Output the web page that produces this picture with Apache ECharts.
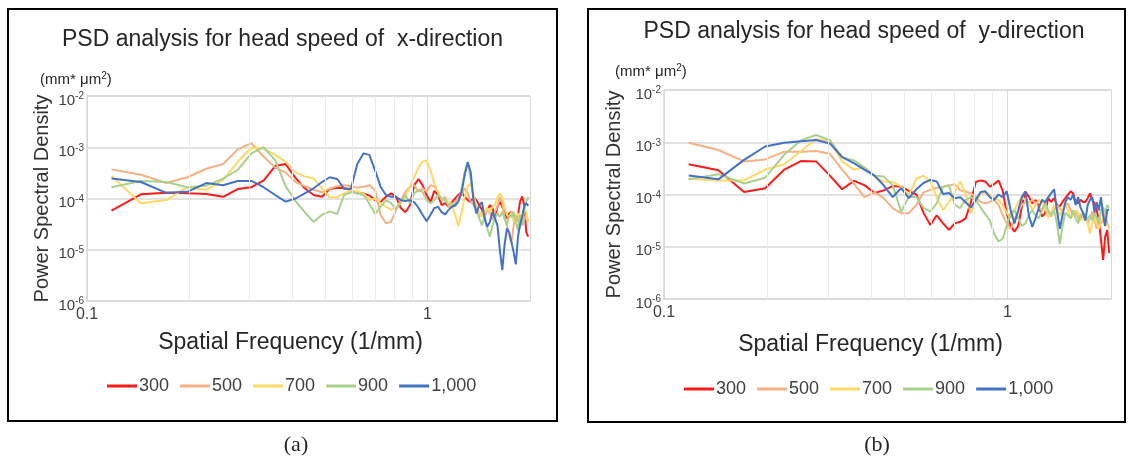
<!DOCTYPE html>
<html><head><meta charset="utf-8">
<script src="https://cdn.jsdelivr.net/npm/echarts@6/dist/echarts.min.js"></script>
<style>html,body{margin:0;padding:0;background:#fff;}#c{width:1133px;height:461px;}</style>
</head><body><div id="c"></div>
<script>
// ---- data ----
const freq = [0.118,0.144,0.171,0.197,0.224,0.251,0.277,0.304,0.330,0.357,0.383,0.410,0.436,0.463,0.490,0.516,0.543,0.569,0.596,0.622,0.649,0.675,0.702,0.728,0.755,0.782,0.808,0.835,0.861,0.888,0.914,0.941,0.967,0.994,1.021,1.047,1.074,1.100,1.127,1.153,1.180,1.206,1.233,1.260,1.286,1.313,1.339,1.366,1.392,1.419,1.445,1.472,1.498,1.525,1.552,1.578,1.605,1.631,1.658,1.684,1.711,1.737,1.764,1.791,1.817,1.844,1.870,1.897,1.923,1.950,1.976];
const seriesNames = ['300','500','700','900','1,000'];
const titleA = 'PSD analysis for head speed of  x-direction';
const titleB = 'PSD analysis for head speed of  y-direction';
const xAxisName = 'Spatial Frequency (1/mm)';
const yAxisName = 'Power Spectral Density';
const unitText = '(mm* \u03bcm{s|2})';
const xTickValues = [0.1, 1];
const xTickLabels = ['0.1', '1'];
const minorGrid = [0.2,0.3,0.4,0.5,0.6,0.7,0.8,0.9];

// panel (a): x-direction
const a300 = [5.8e-5,1.21e-4,1.30e-4,1.26e-4,1.23e-4,1.08e-4,1.53e-4,1.66e-4,2.23e-4,4.3e-4,
  4.7e-4,2.5e-4,1.58e-4,1.17e-4,1.08e-4,1.53e-4,1.62e-4,1.58e-4,1.48e-4,1.26e-4,
  1.26e-4,1.14e-4,9.3e-5,8.5e-5,1.08e-4,1.26e-4,1.08e-4,6.5e-5,5.4e-5,7.4e-5,
  1.82e-4,2.4e-4,1.82e-4,1.17e-4,8.5e-5,1.41e-4,1.17e-4,7.4e-5,8.1e-5,6.9e-5,
  8.5e-5,1.0e-4,1.17e-4,1.35e-4,1.08e-4,9.3e-5,8.5e-5,1.08e-4,9.3e-5,7.4e-5,
  6.0e-5,4.8e-5,6.0e-5,7.4e-5,6.5e-5,4.4e-5,6.9e-5,8.7e-5,6.9e-5,5.5e-5,
  4.1e-5,5.1e-5,5.5e-5,4.8e-5,3.8e-5,4.8e-5,8.7e-5,1.1e-4,7.4e-5,2.2e-5,1.8e-5];
const a500 = [3.7e-4,2.9e-4,2.0e-4,2.6e-4,3.8e-4,4.7e-4,9.1e-4,1.2e-3,6.6e-4,4.0e-4,
  3.2e-4,2.1e-4,1.74e-4,1.48e-4,1.32e-4,1.55e-4,1.74e-4,1.82e-4,1.74e-4,1.62e-4,
  1.70e-4,1.82e-4,1.45e-4,4.8e-5,3.3e-5,3.5e-5,6.0e-5,9.3e-5,1.35e-4,1.70e-4,
  1.82e-4,1.35e-4,1.58e-4,1.35e-4,1.82e-4,1.70e-4,1.35e-4,9.3e-5,1.08e-4,6.9e-5,
  7.4e-5,8.7e-5,1.08e-4,1.17e-4,1.58e-4,1.26e-4,8.7e-5,7.4e-5,6.0e-5,4.4e-5,
  5.5e-5,4.1e-5,6.5e-5,5.1e-5,3.8e-5,5.5e-5,6.9e-5,1.08e-4,8.1e-5,4.1e-5,
  3.0e-5,1.95e-5,1.35e-5,3.0e-5,4.8e-5,3.5e-5,4.8e-5,3.0e-5,3.8e-5,4.8e-5,3.5e-5];
const a700 = [2.75e-4,8.1e-5,9.3e-5,1.66e-4,1.48e-4,2.3e-4,5.2e-4,9.8e-4,9.5e-4,7.1e-4,
  5.2e-4,3.2e-4,2.7e-4,2.45e-4,1.58e-4,1.05e-4,1.07e-4,1.26e-4,1.45e-4,1.38e-4,
  1.26e-4,9.3e-5,1.0e-4,8.1e-5,6.9e-5,6.0e-5,6.9e-5,8.1e-5,1.08e-4,1.70e-4,
  2.6e-4,4.0e-4,5.3e-4,5.5e-4,3.5e-4,2.0e-4,1.3e-4,1.0e-4,9.3e-5,8.7e-5,
  7.4e-5,4.8e-5,2.9e-5,5.5e-5,1.08e-4,1.70e-4,2.0e-4,1.17e-4,6.9e-5,5.5e-5,
  4.4e-5,5.5e-5,6.5e-5,5.5e-5,6.9e-5,7.4e-5,1.08e-4,1.26e-4,1.08e-4,6.5e-5,
  4.8e-5,4.1e-5,5.5e-5,3.5e-5,4.8e-5,5.1e-5,3.0e-5,4.1e-5,6.5e-5,5.5e-5,3.5e-5];
const a900 = [1.66e-4,2.2e-4,2.1e-4,1.66e-4,1.78e-4,2.45e-4,3.6e-4,7.6e-4,1.0e-3,5.6e-4,
  1.74e-4,8.9e-5,5.4e-5,3.5e-5,4.8e-5,5.6e-5,5.0e-5,1.17e-4,1.32e-4,1.26e-4,
  1.17e-4,7.9e-5,5.0e-5,6.9e-5,9.3e-5,8.1e-5,6.0e-5,8.7e-5,1.17e-4,8.1e-5,
  1.26e-4,1.48e-4,1.35e-4,9.3e-5,8.1e-5,9.3e-5,1.17e-4,1.0e-4,9.3e-5,7.4e-5,
  8.1e-5,6.9e-5,8.7e-5,1.58e-4,3.3e-4,5.2e-4,2.45e-4,9.3e-5,6.0e-5,4.1e-5,
  3.0e-5,4.4e-5,2.6e-5,1.8e-5,3.0e-5,4.1e-5,5.1e-5,4.4e-5,5.5e-5,4.1e-5,
  3.0e-5,4.8e-5,4.4e-5,5.5e-5,3.5e-5,2.4e-5,4.8e-5,3.0e-5,6.0e-5,8.7e-5,1.08e-4];
const a1000 = [2.45e-4,2.1e-4,1.29e-4,1.35e-4,2.0e-4,1.82e-4,2.2e-4,2.2e-4,1.66e-4,1.17e-4,
  8.7e-5,1.0e-4,1.26e-4,1.58e-4,2.1e-4,2.6e-4,2.4e-4,1.55e-4,1.55e-4,4.7e-4,
  7.6e-4,7.1e-4,3.5e-4,1.70e-4,1.17e-4,1.08e-4,1.08e-4,9.3e-5,8.9e-5,9.3e-5,
  8.5e-5,6.6e-5,4.8e-5,3.6e-5,4.8e-5,6.5e-5,6.9e-5,5.4e-5,4.9e-5,6.0e-5,
  6.9e-5,7.4e-5,8.9e-5,1.35e-4,2.9e-4,5.1e-4,3.3e-4,8.7e-5,5.1e-5,7.4e-5,
  8.5e-5,4.1e-5,2.8e-5,3.5e-5,5.5e-5,4.1e-5,3.0e-5,1.0e-5,4.0e-6,1.26e-5,
  2.6e-5,2.2e-5,1.41e-5,8.9e-6,5.2e-6,1.8e-5,3.0e-5,4.5e-5,7.1e-5,8.1e-5,7.2e-5];

// panel (b): y-direction
const b300 = [3.8e-4,2.9e-4,1.12e-4,1.32e-4,3.0e-4,4.4e-4,4.3e-4,2.3e-4,1.26e-4,1.82e-4,
  1.51e-4,1.07e-4,1.20e-4,1.45e-4,1.41e-4,1.17e-4,1.0e-4,4.5e-5,2.6e-5,4.0e-5,
  2.8e-5,2.1e-5,2.8e-5,3.0e-5,3.5e-5,7.1e-5,1.74e-4,1.86e-4,1.78e-4,1.41e-4,
  1.58e-4,1.86e-4,1.20e-4,4.4e-5,2.5e-5,1.95e-5,2.5e-5,5.9e-5,1.12e-4,9.1e-5,
  6.8e-5,7.9e-5,5.9e-5,3.8e-5,4.4e-5,8.5e-5,7.2e-5,8.5e-5,6.3e-5,5.9e-5,
  7.2e-5,8.5e-5,9.8e-5,1.15e-4,1.05e-4,7.2e-5,6.8e-5,7.9e-5,7.2e-5,7.2e-5,
  8.5e-5,1.05e-4,7.9e-5,6.8e-5,5.0e-5,3.2e-5,1.35e-5,5.6e-6,1.55e-5,2.1e-5,7.6e-6];
const b500 = [9.8e-4,7.1e-4,4.3e-4,4.7e-4,6.6e-4,6.6e-4,6.8e-4,6.0e-4,3.0e-4,1.62e-4,
  8.9e-5,1.10e-4,8.5e-5,5.5e-5,4.4e-5,4.4e-5,6.3e-5,1.10e-4,1.23e-4,1.35e-4,
  1.41e-4,1.48e-4,1.58e-4,1.20e-4,1.15e-4,1.05e-4,8.9e-5,7.2e-5,6.8e-5,7.2e-5,
  7.9e-5,6.3e-5,4.1e-5,2.8e-5,2.2e-5,3.2e-5,4.7e-5,6.3e-5,7.2e-5,6.8e-5,
  7.9e-5,6.8e-5,5.6e-5,5.0e-5,6.3e-5,4.7e-5,3.8e-5,5.0e-5,6.3e-5,5.5e-5,
  4.7e-5,6.3e-5,6.8e-5,5.0e-5,4.1e-5,4.7e-5,3.5e-5,3.2e-5,4.4e-5,3.8e-5,
  2.8e-5,3.5e-5,4.7e-5,3.2e-5,2.2e-5,3.8e-5,2.8e-5,3.2e-5,4.4e-5,2.8e-5,2.2e-5];
const b700 = [2.0e-4,1.86e-4,1.86e-4,3.0e-4,3.8e-4,6.9e-4,1.15e-3,1.07e-3,4.3e-4,3.0e-4,
  3.3e-4,2.2e-4,1.78e-4,1.74e-4,1.41e-4,9.8e-5,2.0e-4,2.3e-4,1.78e-4,8.9e-5,
  5.0e-5,7.1e-5,1.1e-4,1.78e-4,1.0e-4,4.4e-5,7.9e-5,1.0e-4,1.12e-4,1.0e-4,
  8.9e-5,7.9e-5,6.3e-5,4.5e-5,3.5e-5,5.0e-5,7.1e-5,8.9e-5,7.9e-5,7.1e-5,
  5.0e-5,6.3e-5,7.9e-5,7.1e-5,5.6e-5,3.5e-5,4.5e-5,6.3e-5,5.6e-5,4.0e-5,
  5.0e-5,6.3e-5,5.0e-5,3.5e-5,4.0e-5,5.0e-5,4.5e-5,3.2e-5,3.5e-5,4.0e-5,
  2.8e-5,1.8e-5,2.8e-5,3.5e-5,2.8e-5,2.2e-5,3.2e-5,3.5e-5,2.5e-5,2.8e-5,2.2e-5];
const b900 = [1.95e-4,2.45e-4,1.62e-4,2.1e-4,5.8e-4,1.1e-3,1.38e-3,1.1e-3,5.2e-4,4.5e-4,
  3.3e-4,2.3e-4,2.2e-4,1.51e-4,4.7e-5,9.1e-5,8.9e-5,5.6e-5,4.7e-5,6.8e-5,
  1.41e-4,1.51e-4,6.3e-5,5.5e-5,7.9e-5,8.9e-5,7.9e-5,5.6e-5,4.2e-5,3.2e-5,
  1.8e-5,1.26e-5,1.41e-5,2.5e-5,4.5e-5,5.0e-5,3.5e-5,2.5e-5,2.8e-5,4.0e-5,
  5.0e-5,4.0e-5,3.5e-5,5.0e-5,7.1e-5,5.0e-5,4.0e-5,5.0e-5,2.8e-5,1.12e-5,
  2.5e-5,4.5e-5,4.0e-5,3.5e-5,5.0e-5,3.5e-5,2.8e-5,4.0e-5,4.5e-5,3.2e-5,
  3.5e-5,4.0e-5,3.2e-5,4.5e-5,3.5e-5,2.8e-5,5.0e-5,5.6e-5,4.5e-5,6.3e-5,5.6e-5];
const b1000 = [2.3e-4,1.95e-4,4.6e-4,8.3e-4,9.8e-4,1.05e-3,1.1e-3,9.5e-4,5.2e-4,4.0e-4,
  3.0e-4,2.3e-4,1.5e-4,8.9e-5,1.32e-4,8.5e-5,1.26e-4,1.66e-4,1.9e-4,1.78e-4,
  1.02e-4,1.07e-4,8.5e-5,8.9e-5,7.1e-5,5.6e-5,7.9e-5,1.12e-4,1.15e-4,8.9e-5,
  7.9e-5,1.0e-4,8.9e-5,1.15e-4,5.0e-5,2.8e-5,5.0e-5,8.9e-5,1.15e-4,4.0e-5,
  2.4e-5,3.5e-5,5.6e-5,7.9e-5,7.1e-5,8.9e-5,1.05e-4,1.26e-4,5.0e-5,2.2e-5,
  4.0e-5,7.1e-5,8.9e-5,7.9e-5,1.0e-4,6.3e-5,8.9e-5,5.6e-5,4.5e-5,3.2e-5,
  6.3e-5,7.9e-5,8.9e-5,4.5e-5,7.1e-5,5.0e-5,8.9e-5,4.0e-5,2.5e-5,5.0e-5,5.2e-5];

// ---- styling ----
const colors = ['#FF1A1A','#F4B183','#FFD966','#A9D18E','#4472C4'];
const FONT = '"Liberation Sans", Arial, sans-serif';
const panelA = [a300,a500,a700,a900,a1000];
const panelB = [b300,b500,b700,b900,b1000];

function yAxisCfg(idx, gap) {
  return {
    type: 'log', logBase: 10, gridIndex: idx, min: 1e-6, max: 1e-2,
    axisLine: {show: true, lineStyle: {color: '#d9d9d9', width: 1.5}},
    axisTick: {show: false},
    splitLine: {show: true, lineStyle: {color: '#d9d9d9', width: 1.5}},
    axisLabel: {
      margin: 3, padding: [9, 0, 0, 0],
      formatter: v => '{b|10}{s|' + Math.round(Math.log10(v)) + '}',
      rich: {
        b: {fontSize: 15, fontFamily: FONT, color: '#404040'},
        s: {fontSize: 10, fontFamily: FONT, color: '#404040', padding: [0, 0, 8, 0]}
      }
    },
    name: yAxisName, nameLocation: 'middle', nameGap: gap,
    nameTextStyle: {fontSize: 20, fontFamily: FONT, color: '#333'}
  };
}
function xAxisCfg(idx, gap, shift) {
  return {
    type: 'log', logBase: 10, gridIndex: idx, min: 0.1, max: 2,
    axisLine: {show: true, lineStyle: {color: '#d9d9d9', width: 1.5}},
    axisTick: {show: false},
    splitLine: {show: true, lineStyle: {color: '#d9d9d9', width: 1}},
    axisLabel: {
      margin: 6, fontSize: 16, fontFamily: FONT, color: '#404040',
      formatter: v => {
        const k = xTickValues.findIndex(t => Math.abs(t - v) < 1e-9);
        return k >= 0 ? xTickLabels[k] : '';
      }
    },
    name: xAxisName, nameLocation: 'middle', nameGap: gap,
    nameTextStyle: {fontSize: 23, fontFamily: FONT, color: '#262626', padding: [0, shift, 0, 0]}
  };
}
function lineSeries(idx, vals) {
  return vals.map((arr, k) => ({
    type: 'line', name: seriesNames[k], xAxisIndex: idx, yAxisIndex: idx,
    data: freq.map((f, i) => [f, arr[i]]),
    symbol: 'none', z: 3,
    lineStyle: {width: 2, color: colors[k]}, itemStyle: {color: colors[k]}
  }));
}
function minorSeries(idx) {
  return {
    type: 'line', xAxisIndex: idx, yAxisIndex: idx, data: [], silent: true, z: 1,
    markLine: {
      silent: true, symbol: ['none', 'none'], label: {show: false},
      lineStyle: {color: '#ececec', type: 'solid', width: 1},
      data: minorGrid.map(v => ({xAxis: v}))
    }
  };
}
function legendCfg(left, top) {
  return {
    data: seriesNames, left: left, top: top, padding: 0, selectedMode: false, icon: 'rect',
    itemWidth: 30, itemHeight: 3, itemGap: 11,
    textStyle: {fontSize: 18, fontFamily: FONT, color: '#404040', padding: [0, 0, 0, -3]}
  };
}
function txt(x, y, text, size, align, vAlign, family, rich) {
  return {type: 'text', x: x, y: y, silent: true,
    style: {text: text, fontSize: size, fontFamily: family || FONT, fill: '#262626',
      align: align, verticalAlign: vAlign, rich: rich || {}}};
}
const supRich = {s: {fontSize: 10, fontFamily: FONT, fill: '#262626', padding: [0, 0, 7, 0]}};

const option = {
  animation: false,
  backgroundColor: '#fff',
  grid: [
    {left: 87, top: 96, width: 443, height: 205, outerBoundsMode: 'none'},
    {left: 664, top: 90, width: 447, height: 209, outerBoundsMode: 'none'}
  ],
  xAxis: [xAxisCfg(0, 30, 36), xAxisCfg(1, 34, 34)],
  yAxis: [yAxisCfg(0, 35), yAxisCfg(1, 40)],
  legend: [legendCfg(107, 377), legendCfg(684, 380)],
  series: [minorSeries(0), minorSeries(1)].concat(lineSeries(0, panelA), lineSeries(1, panelB)),
  graphic: [
    {type: 'rect', silent: true, shape: {x: 8, y: 9, width: 549, height: 412},
      style: {fill: 'none', stroke: '#000', lineWidth: 2}},
    {type: 'rect', silent: true, shape: {x: 588, y: 9, width: 537, height: 413},
      style: {fill: 'none', stroke: '#000', lineWidth: 2}},
    txt(282.5, 39.5, titleA, 23, 'center', 'middle'),
    txt(864, 31.7, titleB, 23, 'center', 'middle'),
    txt(40, 88, unitText, 15, 'left', 'bottom', null, supRich),
    txt(615, 80, unitText, 15, 'left', 'bottom', null, supRich),
    txt(296, 445, '(a)', 22, 'center', 'middle', '"Liberation Serif", "Times New Roman", serif'),
    txt(877, 445, '(b)', 22, 'center', 'middle', '"Liberation Serif", "Times New Roman", serif')
  ]
};
const chart = echarts.init(document.getElementById('c'));
chart.setOption(option);
</script>
</body></html>
